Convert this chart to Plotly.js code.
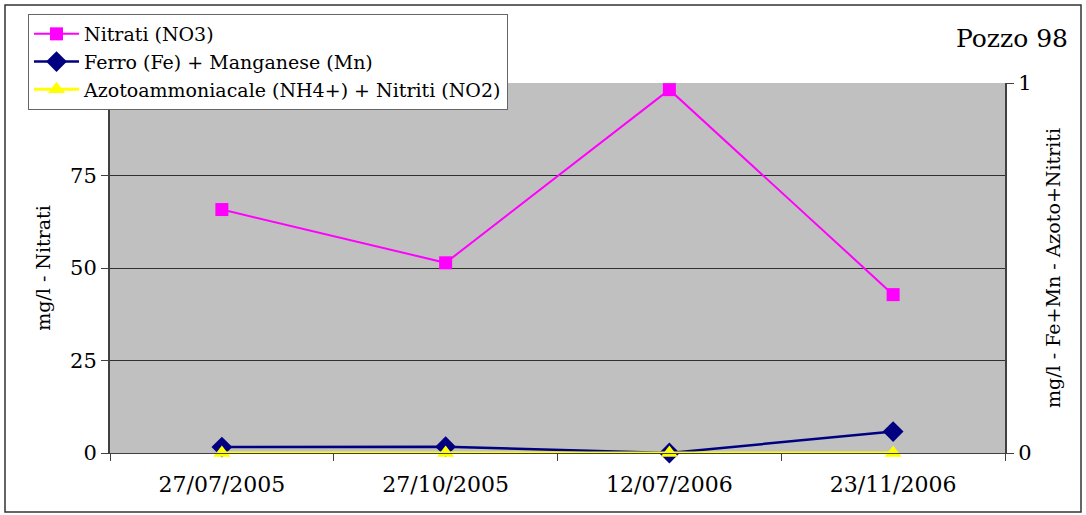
<!DOCTYPE html>
<html>
<head>
<meta charset="utf-8">
<script src="https://cdn.plot.ly/plotly-3.0.1.min.js"></script>
<style>
html,body{margin:0;padding:0;background:#fff;}
#chart{width:1086px;height:515px;}
</style>
</head>
<body>
<div id="chart"></div>
<script>
const dates = ["27/07/2005", "27/10/2005", "12/07/2006", "23/11/2006"];
const nitrati = [65.8, 51.4, 98.2, 42.8];
const ferroManganese = [0.016, 0.017, 0.0, 0.058];
const azotoNitriti = [0, 0, 0, 0];
const leftTicks = [0, 25, 50, 75, 100];
const leftTickLabels = ["0", "25", "50", "75", ""];
const rightTicks = [0, 1];
const rightTickLabels = ["0", "1"];

const serifFamily = "DejaVu Serif";
const mL = 110, mR = 81, mT = 83, mB = 62;
const figW = 1086, figH = 515;
const plotW = figW - mL - mR, plotH = figH - mT - mB;
function toPaperX(v) { return (v - mL) / plotW; }
function toPaperY(v) { return (figH - mB - v) / plotH; }

const traces = [
  {x: dates, y: nitrati, name: "Nitrati (NO3)", type: "scatter", mode: "lines+markers", cliponaxis: false,
   line: {color: "#ff00ff", width: 2}, marker: {symbol: "square", size: 13, color: "#ff00ff"}},
  {x: dates, y: ferroManganese, name: "Ferro (Fe) + Manganese (Mn)", type: "scatter", mode: "lines+markers", yaxis: "y2", cliponaxis: false,
   line: {color: "#000080", width: 2.5}, marker: {symbol: "diamond", size: 16, color: "#000080"}},
  {x: dates, y: azotoNitriti, name: "Azotoammoniacale (NH4+) + Nitriti (NO2)", type: "scatter", mode: "lines+markers", yaxis: "y2", cliponaxis: false,
   line: {color: "#ffff00", width: 3}, marker: {symbol: "triangle-up", size: 15, color: "#ffff00"}}
];

const layout = {
  width: figW, height: figH,
  margin: {l: mL, r: mR, t: mT, b: mB},
  paper_bgcolor: "#ffffff",
  plot_bgcolor: "#c0c0c0",
  font: {family: serifFamily, size: 19, color: "#000000"},
  showlegend: true,
  title: {text: "Pozzo 98", font: {family: serifFamily, size: 25, color: "#000000"},
          xref: "container", yref: "container", x: 1068 / figW, xanchor: "right", y: 1 - 38 / figH, yanchor: "middle"},
  legend: {x: toPaperX(28), y: toPaperY(14), xanchor: "left", yanchor: "top",
           bgcolor: "#ffffff", bordercolor: "#666666", borderwidth: 1, itemwidth: 45,
           entrywidth: 480, entrywidthmode: "pixels",
           font: {family: serifFamily, size: 19, color: "#000000"}, tracegroupgap: 0},
  xaxis: {type: "category", range: [-0.5, 3.5], tickson: "boundaries", ticks: "outside", ticklen: 7, tickcolor: "#404040",
          showline: true, linecolor: "#404040", linewidth: 1, showgrid: false, zeroline: false,
          ticklabelstandoff: 12,
          tickfont: {family: serifFamily, size: 22}},
  yaxis: {range: [0, 100], tickvals: leftTicks, ticktext: leftTickLabels, ticks: "outside", ticklen: 7,
          tickcolor: "#404040", showline: true, linecolor: "#404040", linewidth: 2,
          showgrid: true, gridcolor: "#303030", gridwidth: 1, zeroline: false,
          tickfont: {family: serifFamily, size: 21},
          title: {text: "mg/l - Nitrati", font: {family: serifFamily, size: 19}, standoff: 14}},
  yaxis2: {range: [0, 1], overlaying: "y", side: "right", tickvals: rightTicks, ticktext: rightTickLabels,
           ticks: "outside", ticklen: 7, tickcolor: "#404040", showline: true, linecolor: "#404040", linewidth: 2,
           showgrid: false, zeroline: false, tickfont: {family: serifFamily, size: 21},
           title: {text: "mg/l - Fe+Mn - Azoto+Nitriti", font: {family: serifFamily, size: 19}, standoff: 16}},
  shapes: [
    {type: "rect", xref: "paper", yref: "paper", x0: toPaperX(5), x1: toPaperX(1081), y0: toPaperY(512), y1: toPaperY(5),
     line: {color: "#333333", width: 1.5}, fillcolor: "rgba(0,0,0,0)", layer: "below"}
  ]
};

Plotly.newPlot("chart", traces, layout, {staticPlot: true});
</script>
</body>
</html>
